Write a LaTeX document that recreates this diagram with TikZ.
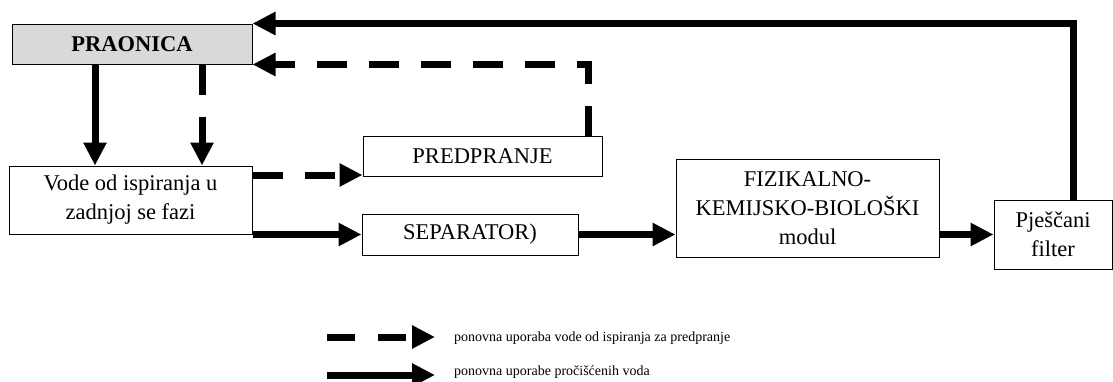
\documentclass[tikz,border=0pt]{standalone}
\usepackage{fontspec}
\setmainfont{Liberation Serif}
\usetikzlibrary{arrows.meta}
\definecolor{boxgray}{HTML}{D9D9D9}
\begin{document}
\begin{tikzpicture}[x=1pt,y=-1pt,
  box/.style={draw, line width=1pt, inner sep=0pt, align=center,
    font=\fontsize{22.5}{29}\selectfont},
  flow/.style={line width=7pt, -{Triangle[length=23pt,width=22pt]}},
  dflow/.style={flow, dash pattern=on 30pt off 22pt},
  legend/.style={inner sep=2pt, font=\fontsize{14}{17}\selectfont}]
\useasboundingbox (0,0) rectangle (1113,381);

\node[box, fill=boxgray, font=\fontsize{22.5}{29}\selectfont\bfseries,
  minimum width=240pt, minimum height=40pt] (praonica) at (132,44) {PRAONICA};
\node[box, minimum width=243pt, minimum height=68pt] (vode) at (130.5,200)
  {Vode od ispiranja u\\zadnjoj se fazi};
\node[box, minimum width=239pt, minimum height=40pt] (predpranje) at (482.5,156) {PREDPRANJE};
\node[box, minimum width=216pt, minimum height=41pt] (separator) at (470,234.5) {SEPARATOR)};
\node[box, minimum width=263pt, minimum height=98pt] (fkb) at (807.5,208)
  {FIZIKALNO-\\KEMIJSKO-BIOLOŠKI\\modul};
\node[box, minimum width=118pt, minimum height=69pt] (pjes) at (1053,234.5)
  {Pješčani\\filter};

\draw[flow] ([xshift=20pt]pjes.north) |- (praonica.north east);
\draw[dflow] ([xshift=105.5pt]predpranje.north) |- (praonica.south east);
\draw[flow] ([xshift=-37pt]praonica.south) -- ([xshift=-35.5pt]vode.north);
\draw[dflow] ([xshift=70pt]praonica.south) -- ([xshift=71.5pt]vode.north);
\draw[dflow] ([yshift=25pt]vode.east) -- ([yshift=25pt]vode.east -| predpranje.west);
\draw[flow] (vode.south east) -- (vode.south east -| separator.west);
\draw[flow] (separator.east) -- (separator.east -| fkb.west);
\draw[flow] (pjes.west -| fkb.east) -- (pjes.west);

\coordinate (l1s) at (327,337);
\coordinate (l1e) at (435,337);
\coordinate (l2s) at (327,375);
\coordinate (l2e) at (435,375);
\draw[dflow, dash pattern=on 28pt off 23pt] (l1s) -- (l1e);
\draw[flow] (l2s) -- (l2e);
\node[legend, anchor=west] (t1) at (452,338) {ponovna uporaba vode od ispiranja za predpranje};
\node[legend, anchor=west] (t2) at (452,372) {ponovna uporabe pročišćenih voda};
\end{tikzpicture}
\end{document}
